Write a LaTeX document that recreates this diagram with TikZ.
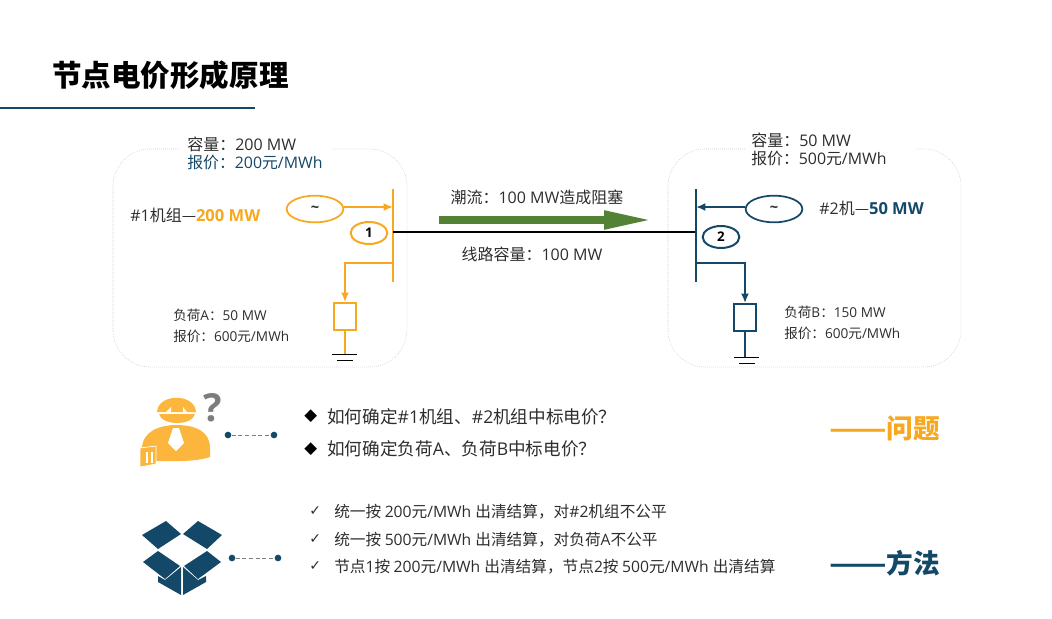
\documentclass[tikz,border=0pt]{standalone}
\usepackage{fontspec}
\setmainfont{Open Sans}
\newfontfamily\cjk{Noto Sans CJK SC}
\newfontfamily\symfont{DejaVu Sans}
\usepackage{xcolor}
\usetikzlibrary{arrows.meta,shapes.geometric}
\newcommand{\zh}[1]{{\cjk #1}}
\newcommand{\fsz}[1]{\fontsize{#1}{#1}\selectfont}
\newcommand{\longdash}[2]{\scalebox{#1}[1]{\zh{#2}}}
\definecolor{lmporange}{RGB}{247,168,30}
\definecolor{lmpskin}{RGB}{252,182,62}
\definecolor{lmpblue}{RGB}{20,72,104}
\definecolor{lmpgreen}{RGB}{84,130,53}
\definecolor{lmpink}{RGB}{45,45,45}
\definecolor{lmpzone}{RGB}{205,205,205}
\definecolor{lmpgrey}{RGB}{125,125,125}
\tikzset{
  label/.style={anchor=west, inner sep=0pt, text=lmpink, font=\fsz{12}},
  small/.style={label, font=\fsz{10.2}},
  ask/.style={label, font=\fsz{13.2}},
  chk/.style={label, font=\fsz{11.75}},
  unit/.style={label, font=\fsz{12}},
  verdict/.style={anchor=west, inner sep=0pt, font=\fsz{20}\bfseries},
  zone/.style={draw=lmpzone, densely dotted, line width=0.5pt, rounded corners=28pt},
  gen/.style={ellipse, draw, fill=white, line width=1.3pt, minimum width=42.5pt, minimum height=20pt, inner sep=0pt, text=lmpink, font=\fsz{11}\bfseries},
  bus/.style={ellipse, draw, fill=white, line width=1.5pt, minimum width=27.5pt, minimum height=16.5pt, inner sep=0pt, text=black, font=\fsz{10}\bfseries},
  loadbox/.style={rectangle, draw, fill=white, line width=1.6pt, minimum width=16pt, minimum height=20pt, inner sep=0pt},
  feed/.style={line width=1.5pt, -{Latex[length=7pt,width=6pt]}},
  barline/.style={line width=2pt},
  drop/.style={line width=1.5pt},
  earth/.style={draw=black, line width=0.7pt},
  tie/.style={draw=black, line width=0.8pt},
  pin/.style={circle, fill=lmpblue, minimum size=5pt, inner sep=0pt},
  pinline/.style={draw=lmpgrey, densely dashed, line width=0.6pt}
}
\begin{document}
\begin{tikzpicture}[x=0.75pt, y=-0.75pt]
  \useasboundingbox (0,0) rectangle (1052,618);

  % title
  \node[anchor=west, inner sep=0pt, text=black, font=\fsz{22.15}\bfseries] (title) at (52,75) {\zh{节点电价形成原理}};
  \coordinate (ruleL) at (0,108);
  \coordinate (ruleR) at (255,108);
  \draw[lmpblue, line width=1.1pt] (ruleL) -- (ruleR);

  % zones
  \draw[zone] (333,149) -| (407,367) -| (113,149) -- (178,149);
  \draw[zone] (916,149) -| (961,367) -| (668,149) -- (745,149);

  % left side
  \node[label] (capA) at (187,144) {\zh{容量：}200 MW};
  \node[label, text=lmpblue, font=\fsz{11.9}] (bidA) at (187,163) {\zh{报价：}200\zh{元}/MWh};
  \node[unit] (unitA) at (130,215) {\#1\zh{机组—}\textcolor{lmporange}{\fsz{12.4}\bfseries 200 MW}};
  \node[small] (loadA) at (173,315) {\zh{负荷}A\zh{：}50 MW};
  \node[small] (priceA) at (173,336) {\zh{报价：}600\zh{元}/MWh};

  \coordinate (busAt) at (393,189);
  \coordinate (busAb) at (393,282);
  \node[gen, draw=lmporange] (genA) at (315,209) {\textasciitilde};
  \node[bus, draw=lmporange] (nodeA) at (369,233) {1};
  \node[loadbox, draw=lmporange, anchor=north] (boxA) at (345,302) {};
  \coordinate (gndA) at (345,354);
  \draw[barline, lmporange] (busAt) -- (busAb);
  \coordinate (inA) at (393,207);
  \draw[feed, lmporange] (genA.east |- inA) -- (inA);
  \coordinate (outA) at (393,263);
  \draw[feed, lmporange] (outA) -| (boxA.north);
  \draw[drop, lmporange] (boxA.south) -- (gndA);
  \draw[earth] (332,354) -- (357,354);
  \draw[earth] (337,360) -- (353,360);

  % line between the buses
  \coordinate (busBt) at (696,189);
  \coordinate (busBb) at (696,282);
  \coordinate (lineA) at (393,232);
  \coordinate (lineB) at (696,232);
  \draw[tie] (lineA) -- (lineB);
  \coordinate (flowS) at (439,220);
  \coordinate (flowE) at (652,220);
  \draw[lmpgreen, line width=5.4pt, -{Triangle[length=36pt,width=13pt]}] (flowS) -- (flowE);
  \node[label, anchor=center] (flow) at (537,197) {\zh{潮流：}100 MW\zh{造成阻塞}};
  \node[label, anchor=center] (limit) at (532,254) {\zh{线路容量：}100 MW};

  % right side
  \node[label] (capB) at (751,140) {\zh{容量：}50 MW};
  \node[label, font=\fsz{11.9}] (bidB) at (751,159) {\zh{报价：}500\zh{元}/MWh};
  \node[unit] (unitB) at (819,208) {\#2\zh{机—}\textcolor{lmpblue}{\fsz{12.4}\bfseries 50 MW}};
  \node[small] (loadB) at (784,312) {\zh{负荷}B\zh{：}150 MW};
  \node[small] (priceB) at (784,333) {\zh{报价：}600\zh{元}/MWh};

  \node[gen, draw=lmpblue] (genB) at (774,209) {\textasciitilde};
  \node[bus, draw=lmpblue] (nodeB) at (721,237) {2};
  \node[loadbox, draw=lmpblue, anchor=north] (boxB) at (745,303) {};
  \coordinate (gndB) at (745,357);
  \draw[barline, lmpblue] (busBt) -- (busBb);
  \coordinate (inB) at (696,207);
  \draw[feed, lmpblue] (genB.west |- inB) -- (inB);
  \coordinate (outB) at (696,263);
  \draw[feed, lmpblue] (outB) -| (boxB.north);
  \draw[drop, lmpblue] (boxB.south) -- (gndB);
  \draw[earth] (734,357) -- (759,357);
  \draw[earth] (739,363) -- (755,363);

  % question icon
  \fill[lmpskin] (157,412) .. controls (158,393) and (195,393) .. (196,412) -- cycle;
  \fill[lmpskin] (159,414) -- (195,414) .. controls (192,426) and (162,426) .. (159,414) -- cycle;
  \fill[white] (166,412) -- (171,407) -- (171,412) -- cycle;
  \fill[white] (187,412) -- (183,407) -- (183,412) -- cycle;
  \fill[lmpskin] (156,449) -- (142,449) .. controls (142,431) and (160,425) .. (176,425)
    .. controls (195,425) and (210,431) .. (210,448) -- (210,457) .. controls (195,462) and (175,461) .. (156,461) -- cycle;
  \fill[white] (173,428) -- (179,428) -- (184,443) -- (176,451) -- (168,443) -- cycle;
  \fill[lmpskin, draw=white, line width=0.5pt] (140,448) -- (156,446) -- (156,464) -- (140,467) -- cycle;
  \fill[white] (145.5,452) rectangle (148,463);
  \fill[white] (150.5,452) rectangle (153,463);
  \node[inner sep=0pt, text=lmpgrey, font=\fsz{29}\bfseries] (qmark) at (213,408) {?};
  \node[pin] (pinQa) at (228,435) {};
  \node[pin] (pinQb) at (274,435) {};
  \draw[pinline] (pinQa) -- (pinQb);

  % questions
  \node[label, font=\symfont\fsz{12.5}, text=black] (bulA) at (304,416) {◆};
  \node[label, font=\symfont\fsz{12.5}, text=black] (bulB) at (304,449) {◆};
  \node[ask] (askA) at (327,417) {\zh{如何确定}\#1\zh{机组、}\#2\zh{机组中标电价？}};
  \node[ask] (askB) at (327,449) {\zh{如何确定负荷}A\zh{、负荷}B\zh{中标电价？}};
  \node[verdict, text=lmporange] (verdictQ) at (829,428) {\longdash{1.26}{——}\zh{问题}};

  % box icon
  \fill[lmpblue] (142,535) -- (166,521) -- (181,534) -- (158,549) -- cycle;
  \fill[lmpblue] (183,534) -- (198,521) -- (222,535) -- (207,549) -- cycle;
  \fill[lmpblue] (143,562) -- (158,551) -- (180,566) -- (165,579) -- cycle;
  \fill[lmpblue] (184,566) -- (207,551) -- (221,562) -- (198,579) -- cycle;
  \fill[lmpblue] (158,576) -- (165,580) -- (181,567) -- (181,595) -- (158,582) -- cycle;
  \fill[lmpblue] (183,567) -- (198,580) -- (206,576) -- (206,582) -- (183,595) -- cycle;
  \node[pin] (pinMa) at (232,558) {};
  \node[pin] (pinMb) at (278,558) {};
  \draw[pinline] (pinMa) -- (pinMb);

  % methods
  \node[label, font=\symfont\fsz{10.5}, text=lmpink] (tickA) at (309,511) {✓};
  \node[label, font=\symfont\fsz{10.5}, text=lmpink] (tickB) at (309,539) {✓};
  \node[label, font=\symfont\fsz{10.5}, text=lmpink] (tickC) at (309,566) {✓};
  \node[chk] (chkA) at (334,512) {\zh{统一按 }200\zh{元}/MWh \zh{出清结算，对}\#2\zh{机组不公平}};
  \node[chk] (chkB) at (334,540) {\zh{统一按 }500\zh{元}/MWh \zh{出清结算，对负荷}A\zh{不公平}};
  \node[chk] (chkC) at (334,567) {\zh{节点}1\zh{按 }200\zh{元}/MWh \zh{出清结算，节点}2\zh{按 }500\zh{元}/MWh \zh{出清结算}};
  \node[verdict, text=lmpblue] (verdictM) at (829,563) {\longdash{1.26}{——}\zh{方法}};
\end{tikzpicture}
\end{document}
